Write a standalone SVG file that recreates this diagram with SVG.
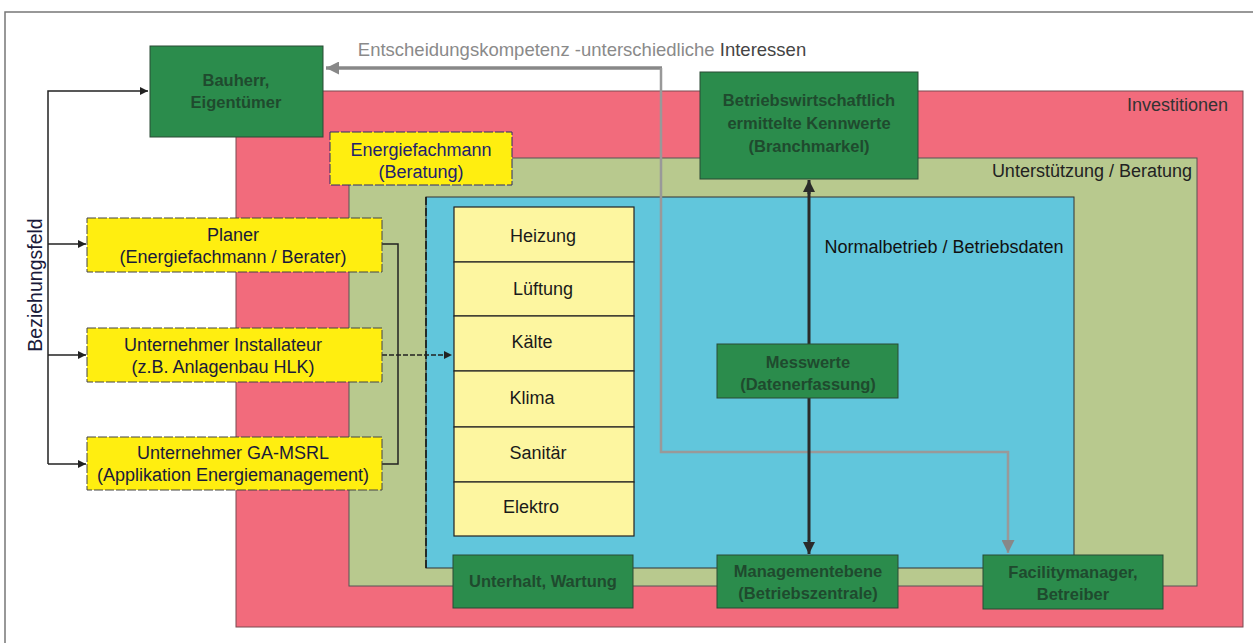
<svg xmlns="http://www.w3.org/2000/svg" width="1253" height="643" viewBox="0 0 1253 643">
<defs>
<style>
text{font-family:"Liberation Sans",Arial,sans-serif;font-size:18px;text-anchor:middle;}
.g{fill:#2b8c4c;stroke:#2a4a35;stroke-width:1;}
.gt{fill:#1f4a2e;font-weight:bold;font-size:16.5px;}
.y{fill:#ffee10;stroke:#444;stroke-width:1;stroke-dasharray:9 2;}
.yt{fill:#1a1a3a;}
.s{fill:#fdf6a0;stroke:#222;stroke-width:1.2;}
.st{fill:#1a1a1a;}
.c{fill:none;stroke:#222;stroke-width:1.5;}
</style>
<marker id="ab" viewBox="0 0 10 10" refX="10" refY="5" markerWidth="10" markerHeight="8" markerUnits="userSpaceOnUse" orient="auto"><path d="M0,0 L10,5 L0,10 Z" fill="#222"/></marker>
<marker id="ag" viewBox="0 0 10 10" refX="10" refY="5" markerWidth="14" markerHeight="13" markerUnits="userSpaceOnUse" orient="auto"><path d="M0,0 L10,5 L0,10 Z" fill="#888"/></marker>
<marker id="ak" viewBox="0 0 10 10" refX="10" refY="5" markerWidth="13" markerHeight="12" markerUnits="userSpaceOnUse" orient="auto"><path d="M0,0 L10,5 L0,10 Z" fill="#2a2a2a"/></marker>
</defs>
<rect width="1253" height="643" fill="#fff"/>
<path d="M5,643 L5,12 L1253,12" fill="none" stroke="#777" stroke-width="1.5"/>

<g id="zone-investitionen">
<rect x="236" y="91" width="1007" height="536" fill="#f26b7c" stroke="#7a4a50" stroke-width="1"/>
<text x="1228" y="111" style="text-anchor:end;fill:#333">Investitionen</text>
</g>
<g id="zone-unterstuetzung">
<rect x="349" y="158" width="848" height="428" fill="#b8c98e" stroke="#555" stroke-width="1"/>
<text x="1192" y="177" style="text-anchor:end;fill:#222">Unterstützung / Beratung</text>
</g>
<g id="zone-normalbetrieb">
<rect x="426" y="197" width="648" height="371" fill="#61c6dc" stroke="#333" stroke-width="1"/>
<path d="M426,197 V568" stroke="#111" stroke-width="1.5" stroke-dasharray="8 3"/>
<text x="944" y="253" style="fill:#111">Normalbetrieb / Betriebsdaten</text>
</g>

<g id="gewerke">
<rect class="s" x="454" y="207" width="180" height="55"/>
<text class="st" x="543" y="242">Heizung</text>
<rect class="s" x="454" y="262" width="180" height="54"/>
<text class="st" x="543" y="295">Lüftung</text>
<rect class="s" x="454" y="316" width="180" height="55"/>
<text class="st" x="532" y="348">Kälte</text>
<rect class="s" x="454" y="371" width="180" height="56"/>
<text class="st" x="532" y="404">Klima</text>
<rect class="s" x="454" y="427" width="180" height="55"/>
<text class="st" x="538" y="459">Sanitär</text>
<rect class="s" x="454" y="482" width="180" height="54"/>
<text class="st" x="531" y="513">Elektro</text>
</g>

<g id="connectors">
<path d="M662,68 H326" fill="none" stroke="#888" stroke-width="3.5" marker-end="url(#ag)"/>
<path d="M661,68 V452 H1008 V553" fill="none" stroke="#999" stroke-width="2.5" marker-end="url(#ag)"/>
<path d="M809,192 V541" fill="none" stroke="#2a2a2a" stroke-width="3"/>
<path d="M809,194 V180" fill="none" stroke="#2a2a2a" stroke-width="3" marker-end="url(#ak)"/>
<path d="M809,540 V554" fill="none" stroke="#2a2a2a" stroke-width="3" marker-end="url(#ak)"/>
<path class="c" d="M48,464 V91 H148" marker-end="url(#ab)"/>
<path class="c" d="M48,244 H86" marker-end="url(#ab)"/>
<path class="c" d="M48,355 H86" marker-end="url(#ab)"/>
<path class="c" d="M48,464 H86" marker-end="url(#ab)"/>
<path class="c" d="M382,244 H398 V464 H382"/>
<path d="M382,355 H452" fill="none" stroke="#222" stroke-width="1.5" stroke-dasharray="5 2" marker-end="url(#ab)"/>
</g>
<text x="582" y="56" style="fill:#8a8a8a;font-size:18.5px">Entscheidungskompetenz -unterschiedliche <tspan fill="#444">Interessen</tspan></text>

<g id="bauherr">
<rect class="g" x="150" y="46" width="173" height="91"/>
<text class="gt" x="236" y="86">Bauherr,</text>
<text class="gt" x="236" y="108">Eigentümer</text>
</g>
<g id="energiefachmann">
<rect x="330" y="132" width="182" height="53" fill="#ffee10" stroke="#2a2a6a" stroke-width="1" stroke-dasharray="9 2"/>
<text x="421" y="156" style="fill:#22226e">Energiefachmann</text>
<text x="421" y="178" style="fill:#22226e">(Beratung)</text>
</g>
<g id="kennwerte">
<rect class="g" x="700" y="72" width="218" height="107"/>
<text class="gt" x="809" y="106">Betriebswirtschaftlich</text>
<text class="gt" x="809" y="129">ermittelte Kennwerte</text>
<text class="gt" x="809" y="152">(Branchmarkel)</text>
</g>
<g id="planer">
<rect class="y" x="87" y="218" width="295" height="54"/>
<text class="yt" x="233" y="241">Planer</text>
<text class="yt" x="233" y="263">(Energiefachmann / Berater)</text>
</g>
<g id="installateur">
<rect class="y" x="87" y="328" width="295" height="54"/>
<text class="yt" x="223" y="351">Unternehmer Installateur</text>
<text class="yt" x="223" y="373">(z.B. Anlagenbau HLK)</text>
</g>
<g id="ga-msrl">
<rect class="y" x="87" y="437" width="295" height="53"/>
<text class="yt" x="233" y="459">Unternehmer GA-MSRL</text>
<text class="yt" x="233" y="481">(Applikation Energiemanagement)</text>
</g>
<text transform="translate(42,285) rotate(-90)" style="fill:#1a1a3a;font-size:19.5px">Beziehungsfeld</text>
<g id="messwerte">
<rect class="g" x="717" y="344" width="181" height="54"/>
<text class="gt" x="808" y="368">Messwerte</text>
<text class="gt" x="808" y="390">(Datenerfassung)</text>
</g>
<g id="unterhalt">
<rect class="g" x="453" y="555" width="180" height="53"/>
<text class="gt" x="543" y="587">Unterhalt, Wartung</text>
</g>
<g id="management">
<rect class="g" x="717" y="555" width="181" height="53"/>
<text class="gt" x="808" y="577">Managementebene</text>
<text class="gt" x="808" y="599">(Betriebszentrale)</text>
</g>
<g id="facility">
<rect class="g" x="983" y="555" width="180" height="54"/>
<text class="gt" x="1073" y="578">Facilitymanager,</text>
<text class="gt" x="1073" y="600">Betreiber</text>
</g>
</svg>
